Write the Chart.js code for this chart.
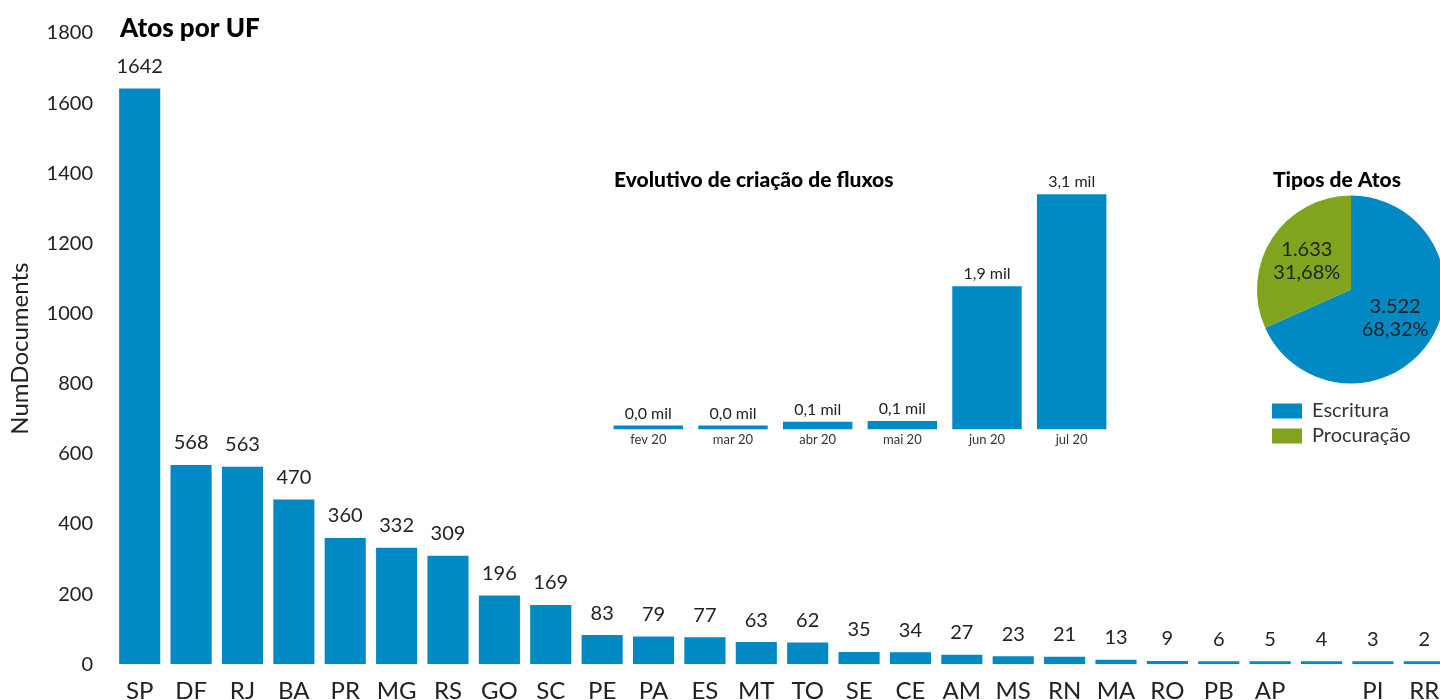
<!DOCTYPE html>
<html>
<head>
<meta charset="utf-8">
<script src="https://cdn.jsdelivr.net/npm/chart.js@4.4.0/dist/chart.umd.min.js"></script>
<style>
  html, body { margin: 0; padding: 0; background: #fff; }
  #wrap { position: relative; width: 1440px; height: 700px; overflow: hidden; }
  .box { position: absolute; }
</style>
</head>
<body>
<div id="wrap">
  <div class="box" style="left:0;top:0;width:1460px;height:720px"><canvas id="ufChart"></canvas></div>
  <div class="box" style="left:600px;top:160px;width:520px;height:300px"><canvas id="fluxChart"></canvas></div>
  <div class="box" style="left:1240px;top:160px;width:210px;height:293px"><canvas id="tipoChart"></canvas></div>
</div>
<script>
// data
const ufLabels = ['SP','DF','RJ','BA','PR','MG','RS','GO','SC','PE','PA','ES','MT','TO','SE','CE','AM','MS','RN','MA','RO','PB','AP','','PI','RR'];
const ufCounts = [1642,568,563,470,360,332,309,196,169,83,79,77,63,62,35,34,27,23,21,13,9,6,5,4,3,2];
const ufTicks = [0,200,400,600,800,1000,1200,1400,1600,1800];

const monthLabels = ['fev 20','mar 20','abr 20','mai 20','jun 20','jul 20'];
const monthCounts = [30,40,100,110,1870,3070];

const tipoLabels = ['Escritura','Procuração'];
const tipoCounts = [3522,1633];

const BLUE = '#0089C3';
const GREEN = '#80A41E';
const INK = '#222';

// number helpers (pt-BR style)
const thousands = (n) => String(n).replace(/\B(?=(\d{3})+(?!\d))/g, '.');
const comma = (n, d) => n.toFixed(d).replace('.', ',');

// text at a fixed spot on the canvas (chart titles)
const headline = {
  id: 'headline',
  afterDraw(chart, args, opts) {
    const ctx = chart.ctx;
    ctx.save();
    ctx.font = opts.font;
    ctx.fillStyle = opts.color || '#000';
    ctx.textAlign = opts.align || 'left';
    ctx.textBaseline = 'middle';
    ctx.fillText(opts.text, opts.x, opts.y);
    ctx.restore();
  }
};

// value labels above bars
const barValues = {
  id: 'barValues',
  afterDatasetsDraw(chart, args, opts) {
    const ctx = chart.ctx;
    const ds = chart.data.datasets[0];
    ctx.save();
    ctx.font = opts.font;
    ctx.fillStyle = opts.color || INK;
    ctx.textAlign = 'center';
    ctx.textBaseline = 'middle';
    chart.getDatasetMeta(0).data.forEach((bar, i) => {
      ctx.fillText(opts.format(ds.data[i]), bar.x, bar.y - opts.offset);
    });
    ctx.restore();
  }
};

// two-line labels inside pie slices
const pieValues = {
  id: 'pieValues',
  afterDatasetsDraw(chart, args, opts) {
    const ctx = chart.ctx;
    const data = chart.data.datasets[0].data;
    const total = data.reduce((a, b) => a + b, 0);
    ctx.save();
    ctx.font = opts.font;
    ctx.fillStyle = opts.color || INK;
    ctx.textAlign = 'center';
    ctx.textBaseline = 'middle';
    chart.getDatasetMeta(0).data.forEach((arc, i) => {
      const mid = (arc.startAngle + arc.endAngle) / 2;
      const r = arc.outerRadius * opts.radius;
      const x = arc.x + Math.cos(mid) * r;
      const y = arc.y + Math.sin(mid) * r;
      ctx.fillText(thousands(data[i]), x, y - opts.gap / 2);
      ctx.fillText(comma(data[i] / total * 100, 2) + '%', x, y + opts.gap / 2);
    });
    ctx.restore();
  }
};

// nudge the legend box a little after layout
const legendNudge = {
  id: 'legendNudge',
  afterLayout(chart, args, opts) {
    const lg = chart.legend;
    if (!lg) return;
    lg.left += opts.dx; lg.right += opts.dx;
    lg.top += opts.dy; lg.bottom += opts.dy;
  }
};

Chart.defaults.font.family = 'Lato, "Open Sans", sans-serif';
Chart.defaults.color = INK;

// main chart: atos por UF
new Chart(document.getElementById('ufChart'), {
  type: 'bar',
  data: {
    labels: ufLabels,
    datasets: [{
      data: ufCounts,
      backgroundColor: BLUE,
      barPercentage: 0.8,
      categoryPercentage: 1,
      minBarLength: 3
    }]
  },
  options: {
    responsive: true,
    maintainAspectRatio: false,
    animation: false,
    layout: { padding: { top: 30, left: 0, right: 10, bottom: 1 } },
    scales: {
      x: {
        grid: { display: false, drawTicks: false },
        border: { display: false },
        ticks: { font: { size: 24 }, color: INK, padding: 13, autoSkip: false, maxRotation: 0 }
      },
      y: {
        min: 0,
        max: 1800,
        afterBuildTicks: (axis) => { axis.ticks = ufTicks.map(v => ({ value: v })); },
        afterFit: (axis) => { axis.width = 114; },
        grid: { display: false, drawTicks: false },
        border: { display: false },
        ticks: { font: { size: 20 }, color: INK, padding: 21, callback: (v) => String(v) },
        title: { display: true, text: 'NumDocuments', font: { size: 24 }, color: INK, padding: { top: 6, bottom: 10 } }
      }
    },
    plugins: {
      legend: { display: false },
      tooltip: { enabled: false },
      headline: { text: 'Atos por UF', x: 120, y: 29, font: '900 26px Lato' },
      barValues: { font: '20px Lato', offset: 22, format: (v) => String(v) }
    }
  },
  plugins: [headline, barValues]
});

// inset: evolutivo mensal
new Chart(document.getElementById('fluxChart'), {
  type: 'bar',
  data: {
    labels: monthLabels,
    datasets: [{
      data: monthCounts,
      backgroundColor: BLUE,
      barPercentage: 0.82,
      categoryPercentage: 1,
      minBarLength: 4
    }]
  },
  options: {
    responsive: true,
    maintainAspectRatio: false,
    animation: false,
    layout: { padding: { top: 32, left: 6, right: 6, bottom: 9 } },
    scales: {
      x: {
        grid: { display: false, drawTicks: false },
        border: { display: false },
        ticks: { font: { size: 13 }, color: '#333', padding: 3, maxRotation: 0 }
      },
      y: { display: false, min: 0, max: 3100 }
    },
    plugins: {
      legend: { display: false },
      tooltip: { enabled: false },
      headline: { text: 'Evolutivo de criação de fluxos', x: 14, y: 20, font: '900 21px Lato' },
      barValues: { font: '16px Lato', offset: 12, format: (v) => comma(v / 1000, 1) + ' mil' }
    }
  },
  plugins: [headline, barValues]
});

// pie: tipos de atos
new Chart(document.getElementById('tipoChart'), {
  type: 'pie',
  data: {
    labels: tipoLabels,
    datasets: [{
      data: tipoCounts,
      backgroundColor: [BLUE, GREEN],
      borderWidth: 0
    }]
  },
  options: {
    responsive: true,
    maintainAspectRatio: false,
    animation: false,
    layout: { padding: { top: 26, left: 17, right: 5, bottom: 0 } },
    plugins: {
      legend: {
        position: 'bottom',
        align: 'start',
        labels: { boxWidth: 30, boxHeight: 15, padding: 5, font: { size: 20 }, color: '#333' }
      },
      legendNudge: { dx: 10, dy: 3 },
      tooltip: { enabled: false },
      headline: { text: 'Tipos de Atos', x: 97, y: 20, font: '900 21px Lato', align: 'center' },
      pieValues: { font: '20px Lato', radius: 0.56, gap: 23 }
    }
  },
  plugins: [headline, pieValues, legendNudge]
});
</script>
</body>
</html>
